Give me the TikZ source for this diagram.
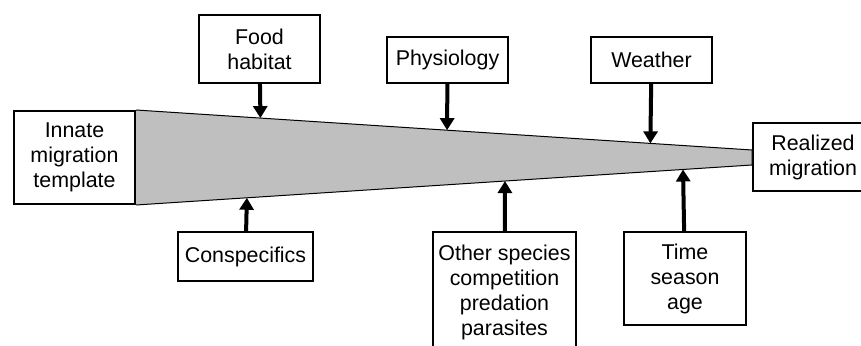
\documentclass[tikz,border=0pt]{standalone}
\usepackage{fontspec}
\setmainfont{Liberation Sans}
\usetikzlibrary{arrows.meta,calc}
\definecolor{wedgegray}{RGB}{191,191,191}
\begin{document}
\begin{tikzpicture}
  [x=0.5pt,y=-0.5pt,
   every node/.style={draw,line width=1pt,align=center,inner sep=0pt,
     font=\fontsize{10.7}{12.5}\selectfont},
   push/.style={line width=2pt,-{Triangle[width=7pt,length=6pt]}}]
  \useasboundingbox (0,0) rectangle (861,346);
  % start and end of the funnel
  \node[minimum width=60.5pt,minimum height=46.5pt] (innate) at (74.5,157.5) {Innate\\migration\\template};
  \node[minimum width=60pt,minimum height=34pt] (realized) at (813,157) {Realized\\migration};
  \coordinate (rtop) at ([yshift=3.5pt]realized.west);
  \coordinate (rbot) at ([yshift=-4pt]realized.west);
  \fill[wedgegray,draw=black,line width=0.5pt]
    (innate.north east) -- (rtop) -- (rbot) -- (innate.south east);
  % factors above
  \node[minimum width=60.5pt,minimum height=34pt] (food) at (259.5,49) {Food\\habitat};
  \node[minimum width=60.5pt,minimum height=23pt] (physio) at (447.5,60) {Physiology};
  \node[minimum width=60.5pt,minimum height=23pt] (weather) at (651.5,60) {Weather};
  % factors below
  \node[minimum width=67.5pt,minimum height=24.5pt] (consp) at (245.5,256.5) {Conspecifics};
  \node[minimum width=71.5pt,minimum height=60pt] (other) at (504.5,292) {Other species\\competition\\predation\\parasites};
  \node[minimum width=61pt,minimum height=46.5pt] (time) at (685,278.5) {Time\\season\\age};
  % where the arrows hit the funnel
  \coordinate (foodhit) at ($(innate.north east)!0.202!(rtop)$);
  \coordinate (physiohit) at ($(innate.north east)!0.505!(rtop)$);
  \coordinate (weatherhit) at ($(innate.north east)!0.835!(rtop)$);
  \coordinate (consphit) at ($(innate.south east)!0.180!(rbot)$);
  \coordinate (otherhit) at ($(innate.south east)!0.599!(rbot)$);
  \coordinate (timehit) at ($(innate.south east)!0.888!(rbot)$);
  \draw[push] (food) -- (foodhit);
  \draw[push] (physio) -- (physiohit);
  \draw[push] (weather) -- (weatherhit);
  \draw[push] (consp) -- (consphit);
  \draw[push] (other) -- (otherhit);
  \draw[push] (time) -- (timehit);
\end{tikzpicture}
\end{document}
